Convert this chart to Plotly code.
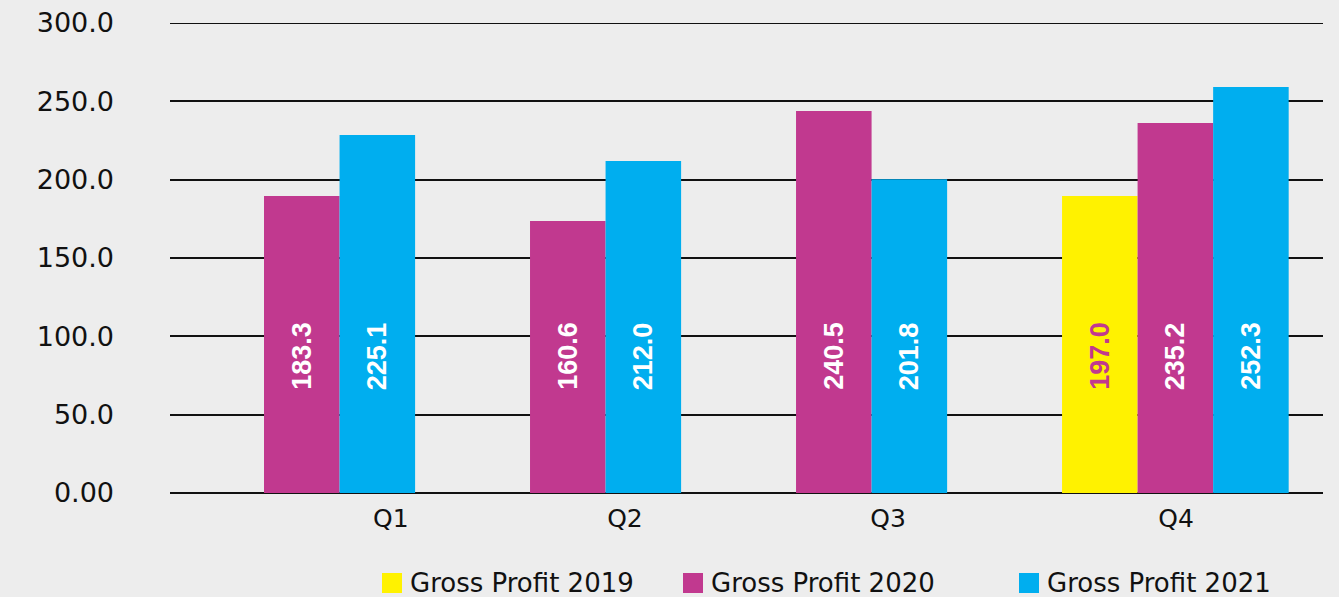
import plotly.graph_objects as go

# ---------------- data ----------------
categories = ["Q1", "Q2", "Q3", "Q4"]
series_names = ["Gross Profit 2019", "Gross Profit 2020", "Gross Profit 2021"]
# bar heights as drawn in the picture
gp_2019 = [None, None, None, 189.6]
gp_2020 = [189.6, 173.6, 243.8, 236.2]
gp_2021 = [228.5, 211.9, 200.2, 259.1]
# value labels printed on the bars
lbl_2019 = [None, None, None, "197.0"]
lbl_2020 = ["183.3", "160.6", "240.5", "235.2"]
lbl_2021 = ["225.1", "212.0", "201.8", "252.3"]
y_tickvals = [0, 50, 100, 150, 200, 250, 300]
y_ticktext = ["0.00", "50.0", "100.0", "150.0", "200.0", "250.0", "300.0"]

# ---------------- styles / layout constants ----------------
colors = ["#FFF200", "#C1398F", "#00AEEF"]
label_colors = ["#C1398F", "white", "white"]
W, H = 1339, 597
ML, MR, MT, MB = 170, 16, 23, 104
BAR_W = 0.284              # bar width in category units
X_RANGE = [-0.3534, 3.981]
TICK_POS = [0.477, 1.357, 2.346, 3.429]
LABEL_Y = 87.5
LEGEND_X_PX = [382, 683, 1019]
LEGEND_Y_PX = (573, 593)
BG = "#ededed"
FONT = "DejaVu Sans"
GRID = "#111111"

values = [gp_2019, gp_2020, gp_2021]
labels = [lbl_2019, lbl_2020, lbl_2021]

pw = W - ML - MR
ph = H - MT - MB
def px2paper_x(px):
    return (px - ML) / pw
def px2paper_y(py):
    return (H - MB - py) / ph

fig = go.Figure()
annotations = []
shapes = []

# top gridline (plotly skips gridlines at the range edge)
shapes.append(dict(type="line", xref="paper", yref="y", x0=0, x1=1,
                   y0=y_tickvals[-1], y1=y_tickvals[-1],
                   line=dict(color=GRID, width=2), layer="below"))

for s, (name, vals, labs) in enumerate(zip(series_names, values, labels)):
    xs, ys = [], []
    for i, v in enumerate(vals):
        if v is None:
            continue
        k = sum(1 for t in range(s) if values[t][i] is not None)
        x = i + k * BAR_W
        xs.append(x)
        ys.append(v)
        annotations.append(dict(
            x=x + BAR_W / 2, y=LABEL_Y, xref="x", yref="y",
            text=labs[i], showarrow=False, textangle=-90,
            font=dict(family="Liberation Sans", size=27, weight="bold",
                      color=label_colors[s]),
        ))
    fig.add_trace(go.Bar(
        x=xs, y=ys, name=name, width=BAR_W, offset=0,
        marker=dict(color=colors[s], line=dict(width=0)),
        showlegend=False, hoverinfo="skip",
    ))
    # custom legend entry
    lx = LEGEND_X_PX[s]
    shapes.append(dict(
        type="rect", xref="paper", yref="paper",
        x0=px2paper_x(lx), x1=px2paper_x(lx + 20),
        y0=px2paper_y(LEGEND_Y_PX[1]), y1=px2paper_y(LEGEND_Y_PX[0]),
        fillcolor=colors[s], line=dict(width=0),
    ))
    annotations.append(dict(
        x=px2paper_x(lx + 26), y=px2paper_y(sum(LEGEND_Y_PX) / 2),
        xref="paper", yref="paper", xanchor="left", yanchor="middle",
        text=name, showarrow=False,
        font=dict(family=FONT, size=26, color="#111111"),
    ))

fig.update_layout(
    width=W, height=H,
    margin=dict(l=ML, r=MR, t=MT, b=MB, pad=0, autoexpand=False),
    paper_bgcolor=BG, plot_bgcolor=BG,
    barmode="overlay",
    showlegend=False,
    annotations=annotations,
    shapes=shapes,
    xaxis=dict(
        type="linear", range=X_RANGE, tickmode="array",
        tickvals=TICK_POS, ticktext=categories,
        showgrid=False, zeroline=False, showline=False, ticks="",
        ticklabelstandoff=8, automargin=False,
        tickfont=dict(family=FONT, size=25, color="#111111"),
        fixedrange=True,
    ),
    yaxis=dict(
        range=[0, 300], tickmode="array",
        tickvals=y_tickvals, ticktext=y_ticktext,
        showgrid=True, gridcolor=GRID, gridwidth=2,
        zeroline=True, zerolinecolor=GRID, zerolinewidth=2,
        showline=False, ticks="", ticklabelstandoff=55, automargin=False,
        tickfont=dict(family=FONT, size=27, color="#111111"),
        fixedrange=True,
    ),
)

fig.write_html("out.html", config={"displayModeBar": False},
               post_script="document.body.style.margin='0';")
